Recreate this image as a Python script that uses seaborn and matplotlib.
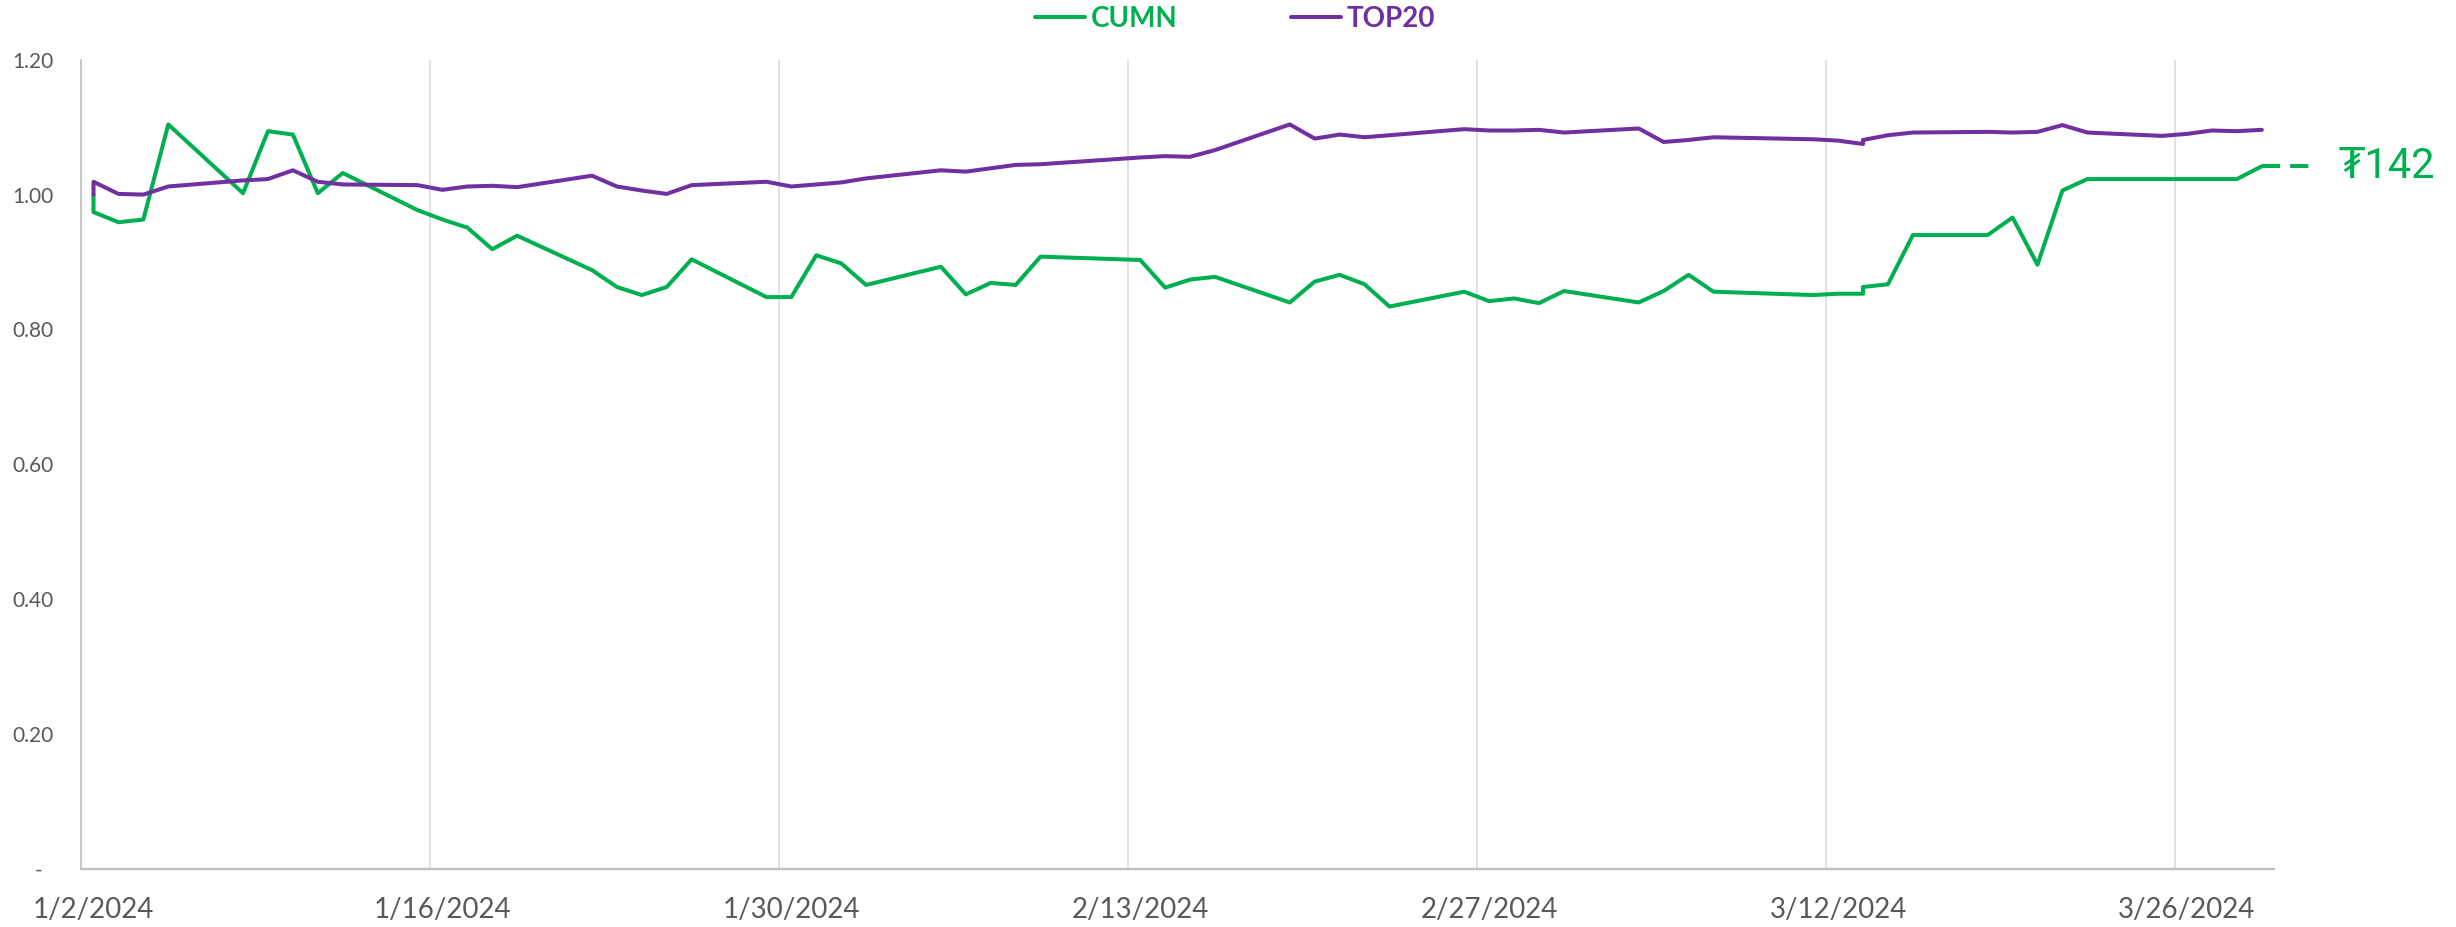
import pandas as pd
import numpy as np
import seaborn as sns
import matplotlib.pyplot as plt

# --- data ---
dates = ["2024-01-02", "2024-01-02", "2024-01-03", "2024-01-04", "2024-01-05",
         "2024-01-08", "2024-01-09", "2024-01-10", "2024-01-11", "2024-01-12",
         "2024-01-15", "2024-01-16", "2024-01-17", "2024-01-18", "2024-01-19",
         "2024-01-22", "2024-01-23", "2024-01-24", "2024-01-25", "2024-01-26",
         "2024-01-29", "2024-01-30", "2024-01-31", "2024-02-01", "2024-02-02",
         "2024-02-05", "2024-02-06", "2024-02-07", "2024-02-08", "2024-02-09",
         "2024-02-13", "2024-02-14", "2024-02-15", "2024-02-16",
         "2024-02-19", "2024-02-20", "2024-02-21", "2024-02-22", "2024-02-23",
         "2024-02-26", "2024-02-27", "2024-02-28", "2024-02-29", "2024-03-01",
         "2024-03-04", "2024-03-05", "2024-03-06", "2024-03-07",
         "2024-03-11", "2024-03-12", "2024-03-13", "2024-03-13", "2024-03-14", "2024-03-15",
         "2024-03-18", "2024-03-19", "2024-03-20", "2024-03-21", "2024-03-22",
         "2024-03-25", "2024-03-26", "2024-03-27", "2024-03-28", "2024-03-29"]

cumn = [1.000, 0.974, 0.959, 0.963, 1.104,
        1.002, 1.094, 1.089, 1.002, 1.032,
        0.977, 0.963, 0.951, 0.919, 0.939,
        0.888, 0.863, 0.851, 0.863, 0.904,
        0.848, 0.848, 0.910, 0.898, 0.866,
        0.893, 0.852, 0.869, 0.866, 0.908,
        0.903, 0.862, 0.874, 0.878,
        0.840, 0.871, 0.881, 0.867, 0.834,
        0.856, 0.842, 0.846, 0.839, 0.857,
        0.840, 0.857, 0.881, 0.856,
        0.851, 0.853, 0.853, 0.863, 0.867, 0.940,
        0.940, 0.966, 0.896, 1.006, 1.023,
        1.023, 1.023, 1.023, 1.023, 1.042]

top20 = [1.000, 1.019, 1.001, 1.000, 1.012,
         1.021, 1.023, 1.036, 1.019, 1.015,
         1.014, 1.007, 1.012, 1.013, 1.011,
         1.028, 1.012, 1.006, 1.001, 1.014,
         1.019, 1.012, 1.015, 1.018, 1.024,
         1.036, 1.034, 1.039, 1.044, 1.045,
         1.055, 1.057, 1.056, 1.066,
         1.104, 1.083, 1.089, 1.085, 1.088,
         1.097, 1.095, 1.095, 1.096, 1.092,
         1.098, 1.078, 1.081, 1.085,
         1.082, 1.080, 1.075, 1.081, 1.088, 1.092,
         1.093, 1.092, 1.093, 1.103, 1.092,
         1.087, 1.090, 1.095, 1.094, 1.096]

series_names = ["CUMN", "TOP20"]
last_price = "₮142"
tick_dates = ["2024-01-02", "2024-01-16", "2024-01-30", "2024-02-13",
              "2024-02-27", "2024-03-12", "2024-03-26"]
tick_labels = ["1/2/2024", "1/16/2024", "1/30/2024", "2/13/2024",
               "2/27/2024", "3/12/2024", "3/26/2024"]
y_ticks = [0, 0.2, 0.4, 0.6, 0.8, 1.0, 1.2]
y_labels = ["-  ", "0.20", "0.40", "0.60", "0.80", "1.00", "1.20"]

GREEN = "#00B050"
PURPLE = "#7030A0"
GREY_TXT = "#595959"

# points sit in the middle of each day (date axis)
half_day = pd.Timedelta(hours=12)
x = pd.to_datetime(dates) + half_day
df = pd.concat([
    pd.DataFrame({"date": x, "value": cumn, "series": series_names[0], "order": range(len(x))}),
    pd.DataFrame({"date": x, "value": top20, "series": series_names[1], "order": range(len(x))}),
])

sns.set_style("white")
plt.rcParams["font.family"] = ["Lato", "DejaVu Sans"]

fig = plt.figure(figsize=(24.56, 9.27), dpi=100)
ax = fig.add_axes([0.033, 0.0626, 0.893, 0.873])

sns.lineplot(data=df, x="date", y="value", hue="series", estimator=None, sort=False,
             palette={series_names[0]: GREEN, series_names[1]: PURPLE},
             linewidth=2.9, ax=ax)

# dashed tail + last price label
last_x = x[-1]
ax.plot([last_x, last_x + pd.Timedelta(days=2)], [cumn[-1], cumn[-1]],
        color=GREEN, lw=2.9, ls=(0, (4.5, 2.5)), clip_on=False)
ax.text(last_x + pd.Timedelta(days=3.1), cumn[-1], last_price, color=GREEN,
        fontsize=30, va="center", ha="left", family=["Roboto", "DejaVu Sans"])

ax.set_xlim(pd.Timestamp("2024-01-02"), pd.Timestamp("2024-03-30"))
ax.set_ylim(0, 1.2)

ax.set_xticks(pd.to_datetime(tick_dates) + half_day)
ax.set_xticklabels(tick_labels, fontsize=20, color=GREY_TXT)
ax.set_xticks(pd.to_datetime(tick_dates), minor=True)
ax.grid(True, axis="x", which="minor", color="#D9D9D9", lw=1.1)
ax.grid(False, axis="x", which="major")
ax.grid(False, axis="y")

ax.set_yticks(y_ticks)
ax.set_yticklabels(y_labels, fontsize=15, color=GREY_TXT)
ax.tick_params(axis="both", which="both", length=0)
ax.tick_params(axis="x", pad=20)
ax.tick_params(axis="y", pad=20)

ax.set_xlabel("")
ax.set_ylabel("")
for side in ["top", "right"]:
    ax.spines[side].set_visible(False)
ax.spines["left"].set_color("#BFBFBF")
ax.spines["left"].set_linewidth(1.2)
ax.spines["bottom"].set_color("#BFBFBF")
ax.spines["bottom"].set_linewidth(1.7)

handles, labels = ax.get_legend_handles_labels()
leg = ax.legend(handles, labels, loc="center", bbox_to_anchor=(0.503, 0.9795),
                bbox_transform=fig.transFigure, ncol=2, frameon=False,
                prop={"family": "Lato", "weight": "bold", "size": 20},
                handlelength=1.8, handletextpad=0.2, columnspacing=4.1)
for txt, col in zip(leg.get_texts(), [GREEN, PURPLE]):
    txt.set_color(col)

fig.savefig("out.png", dpi=100)
